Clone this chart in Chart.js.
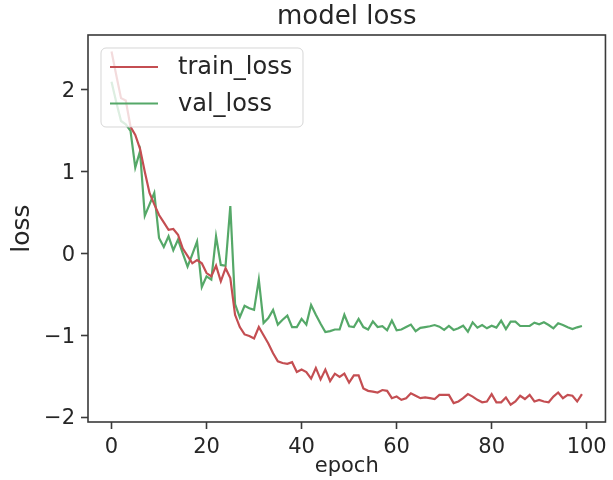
<!DOCTYPE html>
<html>
<head>
<meta charset="utf-8">
<script src="https://cdn.jsdelivr.net/npm/chart.js@4"></script>
<style>
  html, body { margin: 0; padding: 0; background: #ffffff; }
  #wrap { width: 613px; height: 480px; }
</style>
</head>
<body>
<div id="wrap"><canvas id="c" width="613" height="480"></canvas></div>
<script>
const epochs = [0,1,2,3,4,5,6,7,8,9,10,11,12,13,14,15,16,17,18,19,20,21,22,23,24,25,26,27,28,29,30,31,32,33,34,35,36,37,38,39,40,41,42,43,44,45,46,47,48,49,50,51,52,53,54,55,56,57,58,59,60,61,62,63,64,65,66,67,68,69,70,71,72,73,74,75,76,77,78,79,80,81,82,83,84,85,86,87,88,89,90,91,92,93,94,95,96,97,98,99];

const trainLoss = [2.47,2.18,1.90,1.87,1.55,1.45,1.28,1.00,0.74,0.60,
  0.47,0.38,0.29,0.30,0.23,0.06,-0.03,-0.12,-0.08,-0.12,
  -0.24,-0.28,-0.15,-0.34,-0.18,-0.30,-0.75,-0.90,-0.99,-1.01,
  -1.04,-0.90,-1.00,-1.10,-1.22,-1.32,-1.34,-1.35,-1.33,-1.45,
  -1.42,-1.45,-1.53,-1.40,-1.54,-1.42,-1.56,-1.47,-1.51,-1.47,
  -1.58,-1.49,-1.49,-1.65,-1.68,-1.69,-1.70,-1.67,-1.68,-1.77,
  -1.75,-1.79,-1.77,-1.71,-1.74,-1.77,-1.76,-1.77,-1.78,-1.73,
  -1.73,-1.73,-1.83,-1.81,-1.77,-1.72,-1.75,-1.79,-1.82,-1.81,
  -1.72,-1.82,-1.82,-1.76,-1.85,-1.81,-1.74,-1.78,-1.73,-1.81,
  -1.79,-1.81,-1.82,-1.75,-1.70,-1.77,-1.73,-1.74,-1.81,-1.72];

const valLoss = [2.10,1.85,1.62,1.58,1.50,1.05,1.25,0.46,0.60,0.74,
  0.19,0.08,0.21,0.04,0.17,0.00,-0.16,-0.01,0.145,-0.41,
  -0.28,-0.32,0.21,-0.14,-0.15,0.58,-0.62,-0.78,-0.64,-0.67,
  -0.69,-0.32,-0.85,-0.79,-0.69,-0.87,-0.81,-0.76,-0.90,-0.90,
  -0.80,-0.87,-0.63,-0.75,-0.86,-0.96,-0.95,-0.93,-0.93,-0.75,
  -0.89,-0.90,-0.80,-0.90,-0.93,-0.83,-0.90,-0.89,-0.94,-0.82,
  -0.94,-0.93,-0.90,-0.87,-0.95,-0.91,-0.90,-0.89,-0.875,-0.895,
  -0.935,-0.887,-0.935,-0.915,-0.883,-0.956,-0.842,-0.907,-0.875,-0.915,
  -0.883,-0.907,-0.822,-0.924,-0.834,-0.834,-0.887,-0.887,-0.887,-0.846,
  -0.866,-0.842,-0.875,-0.915,-0.854,-0.875,-0.903,-0.924,-0.903,-0.887];

const xTicks = [0, 20, 40, 60, 80, 100];
const yTicks = [-2, -1, 0, 1, 2];
const seriesLabels = ['train_loss', 'val_loss'];
const seriesColors = ['#C44E52', '#55A868'];

const FONT = "'DejaVu Sans', sans-serif";
const INK = '#262626';
const FRAME = '#3a3a3a';

const framePlugin = {
  id: 'frameAndLegend',
  afterDatasetsDraw(chart) {
    const {ctx, chartArea: a} = chart;
    ctx.save();
    ctx.strokeStyle = FRAME;
    ctx.lineWidth = 1.6;
    ctx.strokeRect(a.left, a.top, a.right - a.left, a.bottom - a.top);

    const bx = a.left + 13, by = a.top + 13, bw = 202, bh = 79, r = 5;
    ctx.beginPath();
    ctx.moveTo(bx + r, by);
    ctx.lineTo(bx + bw - r, by);
    ctx.arcTo(bx + bw, by, bx + bw, by + r, r);
    ctx.lineTo(bx + bw, by + bh - r);
    ctx.arcTo(bx + bw, by + bh, bx + bw - r, by + bh, r);
    ctx.lineTo(bx + r, by + bh);
    ctx.arcTo(bx, by + bh, bx, by + bh - r, r);
    ctx.lineTo(bx, by + r);
    ctx.arcTo(bx, by, bx + r, by, r);
    ctx.closePath();
    ctx.fillStyle = 'rgba(255,255,255,0.8)';
    ctx.fill();
    ctx.strokeStyle = 'rgba(204,204,204,0.8)';
    ctx.lineWidth = 1;
    ctx.stroke();

    chart.data.datasets.forEach((ds, i) => {
      const y = by + 19 + i * 36.5;
      ctx.strokeStyle = ds.borderColor;
      ctx.lineWidth = 2;
      ctx.beginPath();
      ctx.moveTo(bx + 9, y);
      ctx.lineTo(bx + 57, y);
      ctx.stroke();
      ctx.fillStyle = INK;
      ctx.font = "24px " + FONT;
      ctx.textAlign = 'left';
      ctx.textBaseline = 'middle';
      ctx.fillText(ds.label, bx + 77, y + 1);
    });
    ctx.restore();
  }
};

const toMinus = v => String(v).replace('-', '\u2212');

new Chart(document.getElementById('c'), {
  type: 'line',
  data: {
    labels: epochs,
    datasets: [
      { label: seriesLabels[0], data: trainLoss, borderColor: seriesColors[0], backgroundColor: seriesColors[0],
        borderWidth: 2.2, pointRadius: 0, tension: 0, fill: false },
      { label: seriesLabels[1], data: valLoss, borderColor: seriesColors[1], backgroundColor: seriesColors[1],
        borderWidth: 2.2, pointRadius: 0, tension: 0, fill: false }
    ]
  },
  options: {
    responsive: false,
    animation: false,
    devicePixelRatio: 1,
    layout: { padding: { left: 0, right: 5, top: 0, bottom: 0 } },
    plugins: {
      legend: { display: false },
      tooltip: { enabled: false },
      title: {
        display: true,
        text: 'model loss',
        fullSize: false,
        align: 'center',
        color: INK,
        font: { family: FONT, size: 26, weight: 'normal', lineHeight: 1.2 },
        padding: { top: 2, bottom: 1.8 }
      }
    },
    scales: {
      x: {
        type: 'linear',
        min: -4.95,
        max: 103.95,
        afterBuildTicks: s => { s.ticks = xTicks.map(v => ({ value: v })); },
        afterFit: s => { s.height = 58; },
        grid: { display: true, drawOnChartArea: false, drawTicks: true, tickLength: 7, tickColor: FRAME, tickWidth: 1.6 },
        border: { display: false },
        ticks: { color: INK, font: { family: FONT, size: 21 }, padding: 6, maxRotation: 0, autoSkip: false,
                 callback: v => toMinus(v) },
        title: { display: true, text: 'epoch', color: INK, font: { family: FONT, size: 21, lineHeight: 1.2 },
                 padding: { top: 0, bottom: 1 } }
      },
      y: {
        type: 'linear',
        min: -2.061,
        max: 2.672,
        afterBuildTicks: s => { s.ticks = yTicks.map(v => ({ value: v })); },
        afterFit: s => { s.width = 88; },
        grid: { display: true, drawOnChartArea: false, drawTicks: true, tickLength: 7, tickColor: FRAME, tickWidth: 1.6 },
        border: { display: false },
        ticks: { color: INK, font: { family: FONT, size: 21 }, padding: 6, autoSkip: false, labelOffset: 2,
                 callback: v => toMinus(v) },
        title: { display: true, text: 'loss', color: INK, font: { family: FONT, size: 25, lineHeight: 1.2 },
                 padding: { top: 7, bottom: 0 } }
      }
    }
  },
  plugins: [framePlugin]
});
</script>
</body>
</html>
